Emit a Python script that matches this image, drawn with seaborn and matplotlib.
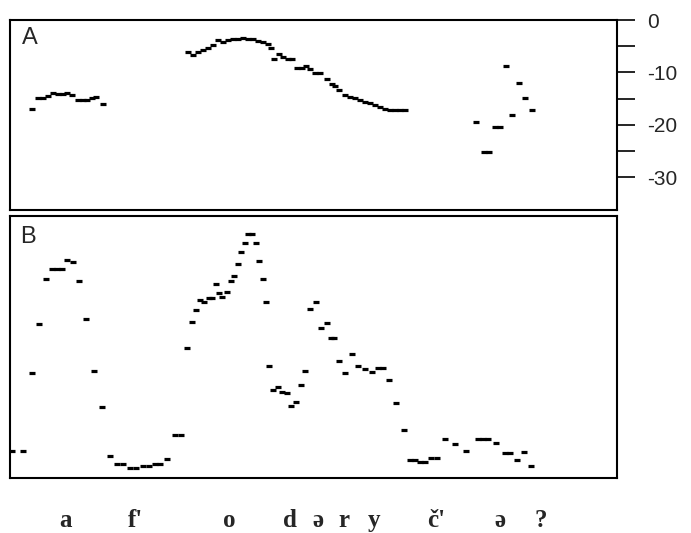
import matplotlib
matplotlib.use('Agg')
import matplotlib.pyplot as plt
import seaborn as sns
import pandas as pd

sns.set_style('white')
plt.rcParams['font.family'] = ['Liberation Sans', 'DejaVu Sans']

# ---------------- Panel A : intensity (dB) ----------------
a1_t = [22, 28, 33, 38, 43, 48, 53, 57, 62, 68, 73, 77, 82, 86, 93]
a1_db = [-17.0, -14.9, -14.9, -14.6, -13.9, -14.2, -14.2, -13.9, -14.3, -15.3,
         -15.3, -15.3, -14.9, -14.8, -16.1]

a2_t = [178, 183, 188, 193, 198, 203, 208, 213, 218, 223,
        228, 233, 238, 243, 248, 253, 258, 261, 264, 269,
        273, 278, 282, 287, 292, 296, 300, 305, 310, 317,
        322, 325, 329, 335, 340, 345, 350, 355, 360, 365,
        370, 375, 380, 385, 390, 395]
a2_db = [-6.1, -6.7, -6.1, -5.7, -5.4, -4.8, -3.8, -4.2, -3.8, -3.6,
         -3.6, -3.4, -3.6, -3.6, -4.0, -4.2, -4.6, -5.4, -7.5, -6.5,
         -7.1, -7.5, -7.5, -9.2, -9.2, -8.8, -9.4, -10.1, -10.1, -11.3,
         -12.2, -12.6, -13.4, -14.3, -14.7, -14.9, -15.3, -15.7, -15.9, -16.3,
         -16.6, -17.0, -17.2, -17.2, -17.2, -17.2]

a3_t = [466, 474, 479, 485, 490, 496, 502, 509, 515, 522]
a3_db = [-19.5, -25.2, -25.2, -20.5, -20.5, -8.8, -18.2, -12.0, -14.9, -17.2]

a_ticks = [0, -10, -20, -30]
a_tick_labels = ['0', '-10', '-20', '-30']
a_minor_ticks = [-5, -15, -25]

# ---------------- Panel B : pitch (arbitrary units) ----------------
b_t = [2, 13, 22, 29, 36, 42, 47, 52, 57, 63, 69, 76, 84, 92, 100, 107, 113, 120,
       126, 133, 139, 145, 150, 157, 165, 171,
       177, 182, 186, 190, 194, 199, 202, 206, 209, 212, 217, 221, 224, 228, 231,
       235, 238, 242, 246, 249, 253, 256, 259, 263, 268, 272, 277, 281, 286, 291,
       295, 300, 306, 311, 317, 321, 324, 329, 335, 342, 348, 355, 362, 368, 373,
       379, 386, 394, 400, 405, 410, 415, 421, 427, 435, 445, 456, 468, 473, 478,
       486, 495, 500, 507, 514, 521]
b_f0 = [27, 27, 105, 154, 199, 209, 209, 209, 218, 216, 197, 159, 107, 71, 22, 14, 14, 10,
        10, 12, 12, 14, 14, 19, 43, 43,
        130, 156, 168, 178, 176, 180, 180, 194, 185, 181, 186, 197, 202, 214, 226,
        235, 244, 244, 235, 217, 199, 176, 112, 88, 91, 86, 85, 72, 76, 93,
        107, 169, 176, 150, 155, 140, 140, 117, 105, 124, 112, 109, 106, 110, 110,
        98, 75, 48, 18, 18, 16, 16, 20, 20, 39, 34, 27, 39, 39, 39,
        35, 25, 25, 18, 26, 12]

# segment labels (transcription) and their time positions
seg_labels = ['a', "f'", 'o', 'd', 'ə', 'r', 'y', "č'", 'ə', '?']
seg_pos = [55, 125, 219, 280, 308, 334, 364, 426, 490, 531]

t_range = (0, 607)

dfA = pd.DataFrame({'t': a1_t + a2_t + a3_t, 'db': a1_db + a2_db + a3_db})
dfB = pd.DataFrame({'t': b_t, 'f0': b_f0})

fig = plt.figure(figsize=(6.91, 5.33), dpi=100)
axA = fig.add_axes([10/691, 1-210/533, 607/691, 190/533])
axB = fig.add_axes([10/691, 1-478/533, 607/691, 262/533])

mk = dict(marker='_', s=22, linewidth=2.3, color='black', legend=False)
sns.scatterplot(data=dfA, x='t', y='db', ax=axA, **mk)
sns.scatterplot(data=dfB, x='t', y='f0', ax=axB, **mk)

axA.set_xlim(*t_range)
axA.set_ylim(-36.3, 0)
axB.set_xlim(*t_range)
axB.set_ylim(0, 262)

for ax in (axA, axB):
    ax.set_xlabel('')
    ax.set_ylabel('')
    ax.set_xticks([])
    for sp in ax.spines.values():
        sp.set_visible(True)
        sp.set_color('black')
        sp.set_linewidth(1.5)

axB.set_yticks([])

axA.yaxis.tick_right()
axA.set_yticks(a_ticks)
axA.set_yticklabels(a_tick_labels)
axA.set_yticks(a_minor_ticks, minor=True)
axA.tick_params(axis='y', which='both', direction='out', length=13, width=1.2,
                color='black', pad=8.5, labelsize=15, right=True, left=False)

axA.text(0.019, 0.965, 'A', transform=axA.transAxes, ha='left', va='top', fontsize=17)
axB.text(0.016, 0.962, 'B', transform=axB.transAxes, ha='left', va='top', fontsize=17)

for lab, pos in zip(seg_labels, seg_pos):
    axB.text(pos, 0, lab, transform=axB.get_xaxis_transform(), ha='center',
             va='baseline', fontsize=18, fontweight='bold',
             family=['Liberation Serif', 'DejaVu Serif'])
# move the labels below the panel
for txt in axB.texts[1:]:
    x, _ = txt.get_position()
    txt.set_position((x, -49/262))

fig.savefig('out.png', dpi=100)
